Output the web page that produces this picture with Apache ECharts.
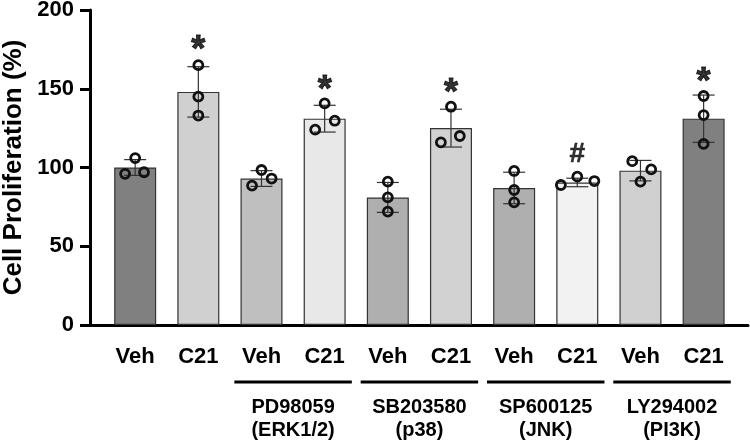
<!DOCTYPE html>
<html>
<head>
<meta charset="utf-8">
<script src="https://cdn.jsdelivr.net/npm/echarts@6/dist/echarts.min.js"></script>
<style>
  html, body { margin: 0; padding: 0; background: #fff; }
  #chart { width: 750px; height: 445px; }
</style>
</head>
<body>
<div id="chart"></div>
<script>
const categories = ["Veh", "C21", "Veh", "C21", "Veh", "C21", "Veh", "C21", "Veh", "C21"];
const means = [100, 148, 93, 131, 81, 125, 87, 90.5, 98, 131];
const sds = [5, 16, 5, 8.5, 9.5, 12, 10, 2.7, 6.5, 15];
const replicates = [
  [96, 106, 97],
  [165, 145, 133],
  [88.5, 98.4, 93],
  [124, 140.7, 129.7],
  [91, 81, 72],
  [116, 138.6, 120],
  [97.8, 85.7, 77.9],
  [88.9, 94.2, 91.4],
  [104, 91, 98.8],
  [145.4, 133.3, 115],
];
// horizontal position of each replicate within its bar, in category units
const spread = [
  [-0.16, 0, 0.14],
  [0, 0, 0],
  [-0.15, 0, 0.16],
  [-0.15, 0, 0.16],
  [0, 0, 0],
  [-0.16, 0, 0.14],
  [0, 0, 0],
  [-0.26, 0, 0.27],
  [-0.13, 0, 0.17],
  [0, 0, 0],
];
const barColors = ["#808080", "#d0d0d0", "#bfbfbf", "#e8e8e8", "#afafaf",
  "#d2d2d2", "#afafaf", "#f2f2f2", "#d0d0d0", "#808080"];
const sigMarks = ["", "*", "", "*", "", "*", "", "#", "", "*"];
const sigLevels = [null, 179.7, null, 154.3, null, 152.4, null, 109.2, null, 159.4];
const inhibitors = ["PD98059\n(ERK1/2)", "SB203580\n(p38)", "SP600125\n(JNK)", "LY294002\n(PI3K)"];
const inhibitorBars = [[2, 3], [4, 5], [6, 7], [8, 9]];

const font = "'Liberation Sans', Arial, sans-serif";
const chart = echarts.init(document.getElementById("chart"));

const points = [];
replicates.forEach((vals, i) => {
  vals.forEach((v, j) => points.push([i + spread[i][j], v]));
});

chart.setOption({
  animation: false,
  grid: [
    { left: 103.6, right: 14.8, top: 10, bottom: 120, outerBoundsMode: "none", containLabel: false },
    { left: 90, right: 2, top: 10, bottom: 120, outerBoundsMode: "none", containLabel: false },
  ],
  xAxis: [
    {
      type: "category",
      gridIndex: 0,
      data: categories,
      axisLine: { show: false, onZero: false },
      axisTick: { alignWithLabel: true, length: 12, lineStyle: { width: 3, color: "#000" } },
      axisLabel: { color: "#000", fontSize: 22, fontWeight: "bold", fontFamily: font, margin: 21 },
    },
    { type: "value", gridIndex: 0, min: -0.5, max: 9.5, show: false },
    {
      type: "value",
      gridIndex: 1,
      min: 0,
      max: 1,
      axisLine: { show: true, onZero: false, lineStyle: { width: 3, color: "#000" } },
      axisTick: { show: false },
      axisLabel: { show: false },
      splitLine: { show: false },
    },
  ],
  yAxis: [
    {
      type: "value",
      gridIndex: 0,
      min: 0,
      max: 200,
      interval: 50,
      offset: 13.6,
      name: "Cell Proliferation (%)",
      nameLocation: "middle",
      nameGap: 62,
      nameTextStyle: { color: "#000", fontSize: 26, fontWeight: "bold", fontFamily: font },
      axisLine: { show: true, onZero: false, lineStyle: { width: 3, color: "#000" } },
      axisTick: { show: true, length: 10, lineStyle: { width: 3, color: "#000" } },
      axisLabel: { color: "#000", fontSize: 22, fontWeight: "bold", fontFamily: font, margin: 16 },
      splitLine: { show: false },
    },
    { type: "value", gridIndex: 1, show: false },
  ],
  series: [
    {
      type: "bar",
      xAxisIndex: 0,
      yAxisIndex: 0,
      barWidth: 42,
      data: means.map((v, i) => ({ value: v, itemStyle: { color: barColors[i] } })),
      itemStyle: { borderColor: "#333", borderWidth: 1.2 },
      z: 2,
    },
    {
      type: "custom",
      xAxisIndex: 1,
      yAxisIndex: 0,
      data: means.map((m, i) => [i, m, sds[i]]),
      renderItem: (params, api) => {
        const x = api.value(0), m = api.value(1), s = api.value(2);
        const hi = api.coord([x, m + s]);
        const lo = api.coord([x, m - s]);
        const style = { stroke: "#333", lineWidth: 1.2 };
        return {
          type: "group",
          children: [
            { type: "line", shape: { x1: hi[0], y1: hi[1], x2: lo[0], y2: lo[1] }, style },
            { type: "line", shape: { x1: hi[0] - 11, y1: hi[1], x2: hi[0] + 11, y2: hi[1] }, style },
            { type: "line", shape: { x1: lo[0] - 11, y1: lo[1], x2: lo[0] + 11, y2: lo[1] }, style },
          ],
        };
      },
      z: 3,
    },
    {
      type: "scatter",
      xAxisIndex: 1,
      yAxisIndex: 0,
      data: points,
      symbolSize: 9,
      itemStyle: { color: "rgba(0,0,0,0)", borderColor: "#111", borderWidth: 2.8, opacity: 1 },
      z: 4,
    },
    {
      type: "scatter",
      xAxisIndex: 0,
      yAxisIndex: 0,
      symbolSize: 0,
      data: sigLevels.map((v, i) => (v === null ? "-" : {
        value: v,
        label: {
          show: true,
          position: "inside",
          formatter: sigMarks[i],
          color: "#000",
          fontFamily: font,
          fontWeight: "bold",
          fontSize: sigMarks[i] === "*" ? 36 : 28,
          offset: sigMarks[i] === "*" ? [0, 9] : [0, 1],
          textBorderColor: "#000",
          textBorderWidth: sigMarks[i] === "*" ? 1 : 0.6,
        },
      })),
      z: 5,
    },
    {
      type: "custom",
      xAxisIndex: 1,
      yAxisIndex: 0,
      clip: false,
      data: inhibitorBars.map((b, i) => [b[0], b[1], i]),
      renderItem: (params, api) => {
        const a = api.coord([api.value(0) - 0.43, 0]);
        const b = api.coord([api.value(1) + 0.43, 0]);
        const y = a[1] + 57;
        return {
          type: "group",
          children: [
            { type: "line", shape: { x1: a[0], y1: y, x2: b[0], y2: y }, style: { stroke: "#000", lineWidth: 3 } },
            {
              type: "text",
              style: {
                x: (a[0] + b[0]) / 2,
                y: y + 14,
                text: inhibitors[api.value(2)],
                fill: "#000",
                font: "bold 20px " + font,
                lineHeight: 23,
                align: "center",
                verticalAlign: "top",
              },
            },
          ],
        };
      },
      z: 5,
    },
  ],
});
</script>
</body>
</html>
